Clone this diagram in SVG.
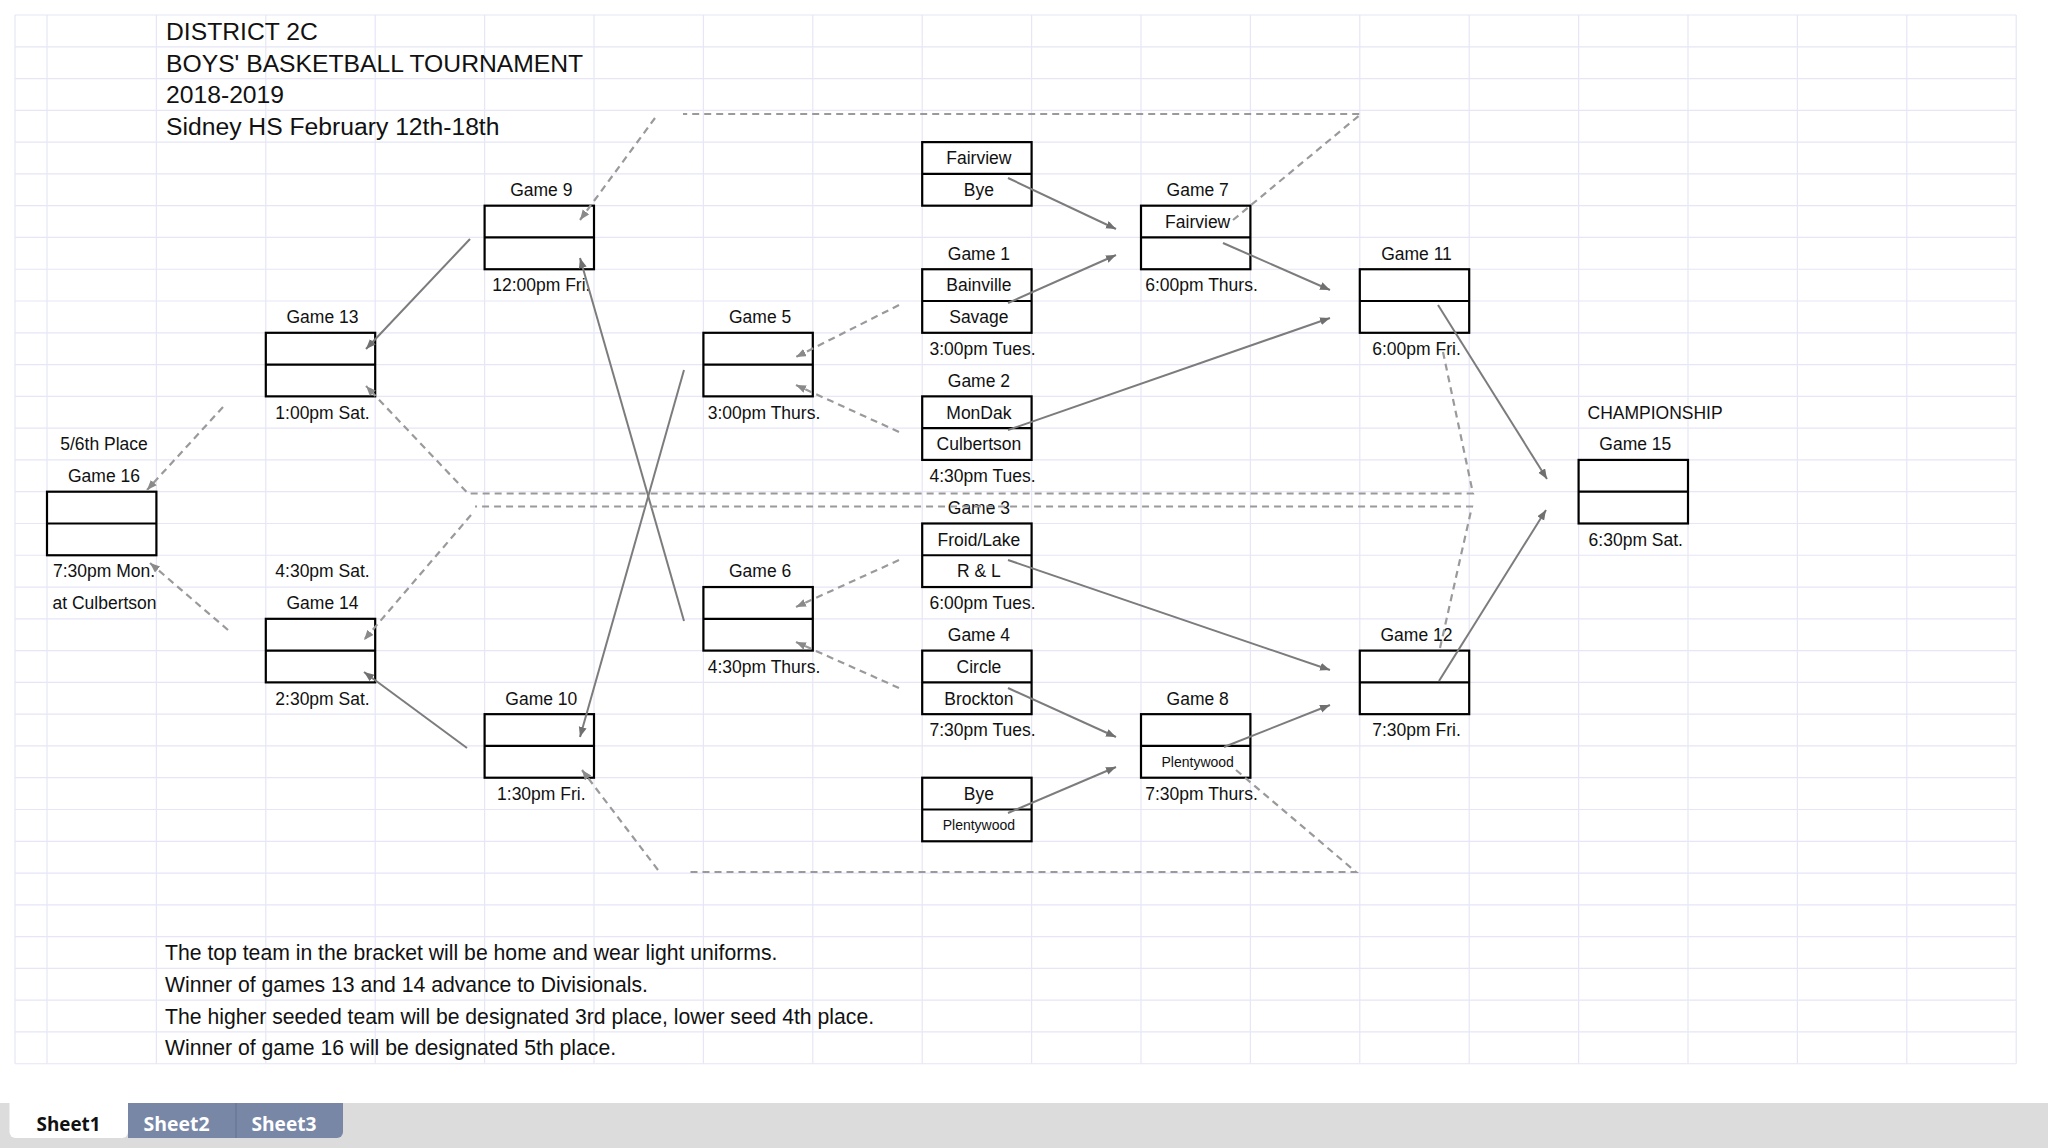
<svg xmlns="http://www.w3.org/2000/svg" width="2048" height="1148" viewBox="0 0 2048 1148">
<style>
text{font-family:"Liberation Sans",Arial,sans-serif;fill:#111}
.t{font-size:17.5px;text-anchor:middle}
.s{font-size:14px;text-anchor:middle}
.h{font-size:24.7px}
.n{font-size:17.5px}
.f{font-size:21.2px}
.box{fill:#fff;stroke:#000;stroke-width:2.2}
.div{stroke:#000;stroke-width:2.2}
.grid{fill:none;stroke:#e6e6f6;stroke-width:1.2}
.sol{fill:none;stroke:#7c7c7c;stroke-width:2;marker-end:url(#ah)}
.dsh{fill:none;stroke:#9a9a9a;stroke-width:2.2;stroke-dasharray:7 5}
.dsha{fill:none;stroke:#9a9a9a;stroke-width:2.2;stroke-dasharray:7 5;marker-end:url(#ahd)}
.tab{font-family:"Open Sans","DejaVu Sans",sans-serif;font-size:19px;font-weight:bold;text-anchor:middle}
</style>
<defs>
<marker id="ah" markerUnits="userSpaceOnUse" markerWidth="12" markerHeight="10" refX="10" refY="4" orient="auto"><path d="M0,0 L10,4 L0,8 z" fill="#707070"/></marker>
<marker id="ahd" markerUnits="userSpaceOnUse" markerWidth="12" markerHeight="10" refX="10" refY="4" orient="auto"><path d="M0,0 L10,4 L0,8 z" fill="#8a8a8a"/></marker>
</defs>
<rect width="2048" height="1148" fill="#fff"/>
<g id="grid">
<path class="grid" d="M15 15V1063.74M47 15V1063.74M156.4 15V1063.74M265.8 15V1063.74M375.2 15V1063.74M484.6 15V1063.74M594 15V1063.74M703.4 15V1063.74M812.8 15V1063.74M922.2 15V1063.74M1031.6 15V1063.74M1141 15V1063.74M1250.4 15V1063.74M1359.8 15V1063.74M1469.2 15V1063.74M1578.6 15V1063.74M1688 15V1063.74M1797.4 15V1063.74M1906.8 15V1063.74M2016.2 15V1063.74"/>
<path class="grid" d="M15 15H2016.2M15 46.78H2016.2M15 78.56H2016.2M15 110.34H2016.2M15 142.12H2016.2M15 173.9H2016.2M15 205.68H2016.2M15 237.46H2016.2M15 269.24H2016.2M15 301.02H2016.2M15 332.8H2016.2M15 364.58H2016.2M15 396.36H2016.2M15 428.14H2016.2M15 459.92H2016.2M15 491.7H2016.2M15 523.48H2016.2M15 555.26H2016.2M15 587.04H2016.2M15 618.82H2016.2M15 650.6H2016.2M15 682.38H2016.2M15 714.16H2016.2M15 745.94H2016.2M15 777.72H2016.2M15 809.5H2016.2M15 841.28H2016.2M15 873.06H2016.2M15 904.84H2016.2M15 936.62H2016.2M15 968.4H2016.2M15 1000.18H2016.2M15 1031.96H2016.2M15 1063.74H2016.2"/>
</g>
<g id="title">
<text class="h" x="166" y="39.7">DISTRICT 2C</text>
<text class="h" x="166" y="71.5">BOYS' BASKETBALL TOURNAMENT</text>
<text class="h" x="166" y="103.3">2018-2019</text>
<text class="h" x="166" y="135">Sidney HS February 12th-18th</text>
</g>
<g id="game16">
<text class="t" x="104" y="450.2">5/6th Place</text>
<text class="t" x="104" y="482">Game 16</text>
<rect class="box" x="47" y="491.7" width="109.4" height="63.56"/>
<line class="div" x1="47" y1="523.48" x2="156.4" y2="523.48"/>
<text class="t" x="104" y="577.4">7:30pm Mon.</text>
<text class="t" x="104.5" y="609.1">at Culbertson</text>
</g>
<g id="game13">
<text class="t" x="322.5" y="323.1">Game 13</text>
<rect class="box" x="265.8" y="332.8" width="109.4" height="63.56"/>
<line class="div" x1="265.8" y1="364.58" x2="375.2" y2="364.58"/>
<text class="t" x="322.5" y="418.5">1:00pm Sat.</text>
</g>
<g id="game14">
<text class="t" x="322.5" y="577.4">4:30pm Sat.</text>
<text class="t" x="322.5" y="609.1">Game 14</text>
<rect class="box" x="265.8" y="618.82" width="109.4" height="63.56"/>
<line class="div" x1="265.8" y1="650.6" x2="375.2" y2="650.6"/>
<text class="t" x="322.5" y="704.5">2:30pm Sat.</text>
</g>
<g id="game9">
<text class="t" x="541.3" y="196">Game 9</text>
<rect class="box" x="484.6" y="205.68" width="109.4" height="63.56"/>
<line class="div" x1="484.6" y1="237.46" x2="594" y2="237.46"/>
<text class="t" x="541.3" y="291.3">12:00pm Fri.</text>
</g>
<g id="game10">
<text class="t" x="541.3" y="704.5">Game 10</text>
<rect class="box" x="484.6" y="714.16" width="109.4" height="63.56"/>
<line class="div" x1="484.6" y1="745.94" x2="594" y2="745.94"/>
<text class="t" x="541.3" y="799.8">1:30pm Fri.</text>
</g>
<g id="game5">
<text class="t" x="760.1" y="323.1">Game 5</text>
<rect class="box" x="703.4" y="332.8" width="109.4" height="63.56"/>
<line class="div" x1="703.4" y1="364.58" x2="812.8" y2="364.58"/>
<text class="t" x="764" y="418.5">3:00pm Thurs.</text>
</g>
<g id="game6">
<text class="t" x="760.1" y="577.4">Game 6</text>
<rect class="box" x="703.4" y="587.04" width="109.4" height="63.56"/>
<line class="div" x1="703.4" y1="618.82" x2="812.8" y2="618.82"/>
<text class="t" x="764" y="672.7">4:30pm Thurs.</text>
</g>
<g id="fairview-bye">
<rect class="box" x="922.2" y="142.12" width="109.4" height="63.56"/>
<line class="div" x1="922.2" y1="173.9" x2="1031.6" y2="173.9"/>
<text class="t" x="978.9" y="164.2">Fairview</text>
<text class="t" x="978.9" y="196">Bye</text>
</g>
<g id="game1">
<text class="t" x="978.9" y="259.6">Game 1</text>
<rect class="box" x="922.2" y="269.24" width="109.4" height="63.56"/>
<line class="div" x1="922.2" y1="301.02" x2="1031.6" y2="301.02"/>
<text class="t" x="978.9" y="291.3">Bainville</text>
<text class="t" x="978.9" y="323.1">Savage</text>
<text class="t" x="982.5" y="354.9">3:00pm Tues.</text>
</g>
<g id="game2">
<text class="t" x="978.9" y="386.7">Game 2</text>
<rect class="box" x="922.2" y="396.36" width="109.4" height="63.56"/>
<line class="div" x1="922.2" y1="428.14" x2="1031.6" y2="428.14"/>
<text class="t" x="978.9" y="418.5">MonDak</text>
<text class="t" x="978.9" y="450.2">Culbertson</text>
<text class="t" x="982.5" y="482">4:30pm Tues.</text>
</g>
<g id="game3">
<text class="t" x="978.9" y="513.8">Game 3</text>
<rect class="box" x="922.2" y="523.48" width="109.4" height="63.56"/>
<line class="div" x1="922.2" y1="555.26" x2="1031.6" y2="555.26"/>
<text class="t" x="978.9" y="545.6">Froid/Lake</text>
<text class="t" x="978.9" y="577.4">R &amp; L</text>
<text class="t" x="982.5" y="609.1">6:00pm Tues.</text>
</g>
<g id="game4">
<text class="t" x="978.9" y="640.9">Game 4</text>
<rect class="box" x="922.2" y="650.6" width="109.4" height="63.56"/>
<line class="div" x1="922.2" y1="682.38" x2="1031.6" y2="682.38"/>
<text class="t" x="978.9" y="672.7">Circle</text>
<text class="t" x="978.9" y="704.5">Brockton</text>
<text class="t" x="982.5" y="736.3">7:30pm Tues.</text>
</g>
<g id="bye-plentywood">
<rect class="box" x="922.2" y="777.72" width="109.4" height="63.56"/>
<line class="div" x1="922.2" y1="809.5" x2="1031.6" y2="809.5"/>
<text class="t" x="978.9" y="799.8">Bye</text>
<text class="s" x="978.9" y="830.4">Plentywood</text>
</g>
<g id="game7">
<text class="t" x="1197.7" y="196">Game 7</text>
<rect class="box" x="1141" y="205.68" width="109.4" height="63.56"/>
<line class="div" x1="1141" y1="237.46" x2="1250.4" y2="237.46"/>
<text class="t" x="1197.7" y="227.8">Fairview</text>
<text class="t" x="1201.5" y="291.3">6:00pm Thurs.</text>
</g>
<g id="game8">
<text class="t" x="1197.7" y="704.5">Game 8</text>
<rect class="box" x="1141" y="714.16" width="109.4" height="63.56"/>
<line class="div" x1="1141" y1="745.94" x2="1250.4" y2="745.94"/>
<text class="s" x="1197.7" y="766.8">Plentywood</text>
<text class="t" x="1201.5" y="799.8">7:30pm Thurs.</text>
</g>
<g id="game11">
<text class="t" x="1416.5" y="259.6">Game 11</text>
<rect class="box" x="1359.8" y="269.24" width="109.4" height="63.56"/>
<line class="div" x1="1359.8" y1="301.02" x2="1469.2" y2="301.02"/>
<text class="t" x="1416.5" y="354.9">6:00pm Fri.</text>
</g>
<g id="game12">
<text class="t" x="1416.5" y="640.9">Game 12</text>
<rect class="box" x="1359.8" y="650.6" width="109.4" height="63.56"/>
<line class="div" x1="1359.8" y1="682.38" x2="1469.2" y2="682.38"/>
<text class="t" x="1416.5" y="736.3">7:30pm Fri.</text>
</g>
<g id="game15">
<text class="n" x="1587.5" y="418.5">CHAMPIONSHIP</text>
<text class="t" x="1635.3" y="450.2">Game 15</text>
<rect class="box" x="1578.6" y="459.92" width="109.4" height="63.56"/>
<line class="div" x1="1578.6" y1="491.7" x2="1688" y2="491.7"/>
<text class="t" x="1635.8" y="545.6">6:30pm Sat.</text>
</g>
<g id="notes">
<text class="f" x="165" y="960.1">The top team in the bracket will be home and wear light uniforms.</text>
<text class="f" x="165" y="991.9">Winner of games 13 and 14 advance to Divisionals.</text>
<text class="f" x="165" y="1023.7">The higher seeded team will be designated 3rd place, lower seed 4th place.</text>
<text class="f" x="165" y="1055.4">Winner of game 16 will be designated 5th place.</text>
</g>
<g id="connectors">
<line class="sol" x1="1008" y1="178" x2="1116" y2="229"/>
<line class="sol" x1="1008" y1="303" x2="1116" y2="255"/>
<line class="sol" x1="1223" y1="243" x2="1330" y2="290"/>
<line class="sol" x1="1008" y1="430" x2="1330" y2="318"/>
<line class="sol" x1="1438" y1="305" x2="1547" y2="479"/>
<line class="sol" x1="1439" y1="681" x2="1546" y2="510"/>
<line class="sol" x1="1008" y1="560" x2="1330" y2="670"/>
<line class="sol" x1="1008" y1="688" x2="1116" y2="737"/>
<line class="sol" x1="1008" y1="813" x2="1116" y2="767"/>
<line class="sol" x1="1224" y1="747" x2="1330" y2="705"/>
<line class="sol" x1="470" y1="239" x2="366" y2="349"/>
<line class="sol" x1="467" y1="748" x2="364" y2="672"/>
<line class="sol" x1="684" y1="621" x2="580" y2="258"/>
<line class="sol" x1="684" y1="370" x2="580" y2="737"/>
<line class="dsha" x1="899" y1="305" x2="796" y2="357"/>
<line class="dsha" x1="899" y1="432" x2="796" y2="385"/>
<line class="dsha" x1="899" y1="560" x2="796" y2="607"/>
<line class="dsha" x1="899" y1="688" x2="796" y2="642"/>
<polyline class="dsh" points="1233,220 1361,114 683,114"/>
<line class="dsha" x1="655" y1="118" x2="580" y2="220"/>
<polyline class="dsh" points="1236,770 1356,872 687,872"/>
<line class="dsha" x1="658" y1="870" x2="582" y2="770"/>
<polyline class="dsha" points="1443,352 1473,493.5 468,493.5 366,386"/>
<polyline class="dsh" points="1440,648 1472,506.5 475,506.5"/>
<line class="dsha" x1="471" y1="515" x2="364" y2="640"/>
<line class="dsha" x1="223" y1="407" x2="147" y2="490"/>
<line class="dsha" x1="228" y1="630" x2="150" y2="563"/>
</g>
<g id="tabs">
<rect x="0" y="1103" width="2048" height="45" fill="#dcdcdc"/>
<path d="M128,1103 H343 V1132 a6,6 0 0 1 -6,6 H128 z" fill="#7987a7"/>
<line x1="236" y1="1103" x2="236" y2="1138" stroke="#6a7898" stroke-width="1.5"/>
<path d="M9.5,1103 H128 V1132 a6,6 0 0 1 -6,6 H15.5 a6,6 0 0 1 -6,-6 z" fill="#fff"/>
<text class="tab" x="68.5" y="1130.5" textLength="64" lengthAdjust="spacingAndGlyphs" fill="#222">Sheet1</text>
<text class="tab" x="176.5" y="1130.5" textLength="66" lengthAdjust="spacingAndGlyphs" style="fill:#fff">Sheet2</text>
<text class="tab" x="284" y="1130.5" textLength="65" lengthAdjust="spacingAndGlyphs" style="fill:#fff">Sheet3</text>
</g>
</svg>
